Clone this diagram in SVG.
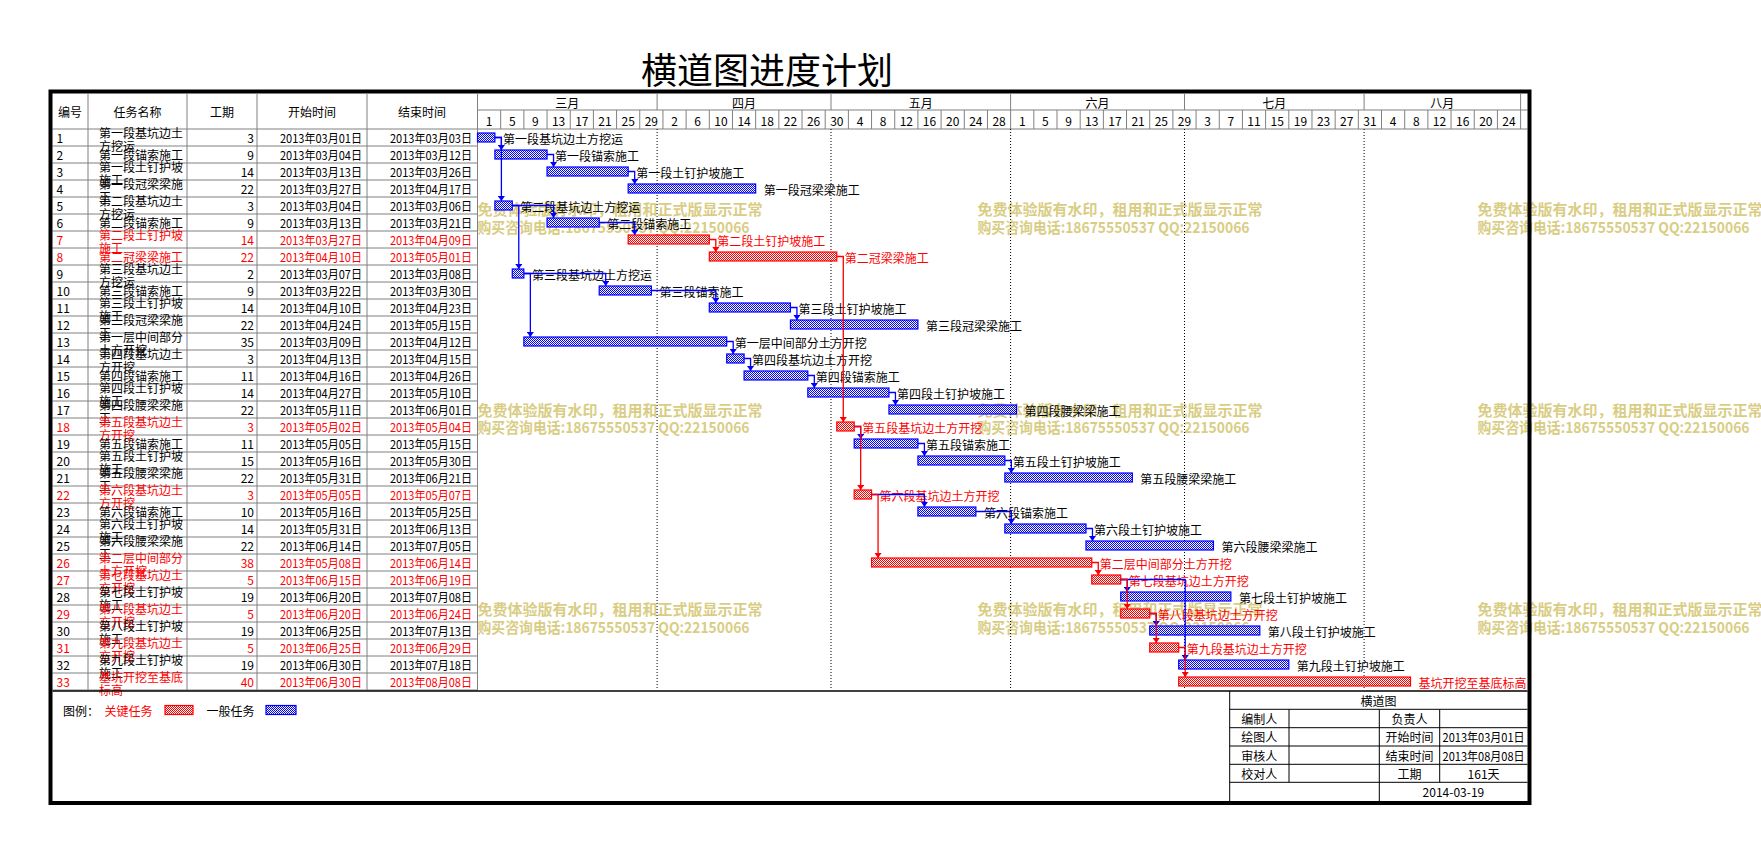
<svg xmlns="http://www.w3.org/2000/svg" width="1761" height="852" viewBox="0 0 1761 852">
<style>
text{font-family:"Noto Sans CJK SC","Noto Sans",sans-serif;font-size:12px;dominant-baseline:central;fill:#000}
.e{text-anchor:end}
.m{text-anchor:middle}
.crit text{fill:#f00}
.g{stroke:#808080;stroke-width:1;fill:none}
.k{stroke:#000;stroke-width:1;fill:none}
.bb{fill:url(#pb);stroke:#00f;stroke-width:1.2}
.br{fill:url(#pr);stroke:#f00;stroke-width:1.2}
.cb{fill:none;stroke:#00f;stroke-width:1.3;marker-end:url(#ab)}
.cr{fill:none;stroke:#f00;stroke-width:1.3;marker-end:url(#ar)}
.wm text{font-size:15px;font-weight:bold;fill:#d9cd84}
.dot{stroke:#000;stroke-width:1;stroke-dasharray:1 2;fill:none}
.title{font-size:36px}
</style>
<defs>
<pattern id="pb" width="2" height="2" patternUnits="userSpaceOnUse"><rect width="2" height="2" fill="#fff"/><rect width="1" height="1" fill="#00f"/><rect x="1" y="1" width="1" height="1" fill="#00f"/></pattern>
<pattern id="pr" width="2" height="2" patternUnits="userSpaceOnUse"><rect width="2" height="2" fill="#fff"/><rect width="1" height="1" fill="#f00"/><rect x="1" y="1" width="1" height="1" fill="#f00"/></pattern>
<marker id="ab" markerUnits="userSpaceOnUse" markerWidth="6" markerHeight="7" refX="5" refY="3.5" orient="auto" viewBox="0 0 6 7"><path d="M0,0L5,3.5L0,7Z" fill="#00f"/></marker>
<marker id="ar" markerUnits="userSpaceOnUse" markerWidth="6" markerHeight="7" refX="5" refY="3.5" orient="auto" viewBox="0 0 6 7"><path d="M0,0L5,3.5L0,7Z" fill="#f00"/></marker>
</defs>
<rect width="1761" height="852" fill="#fff"/>
<text class="m title" x="767" y="67.5">横道图进度计划</text>

<g id="watermark" class="wm">
<text x="477.5" y="208">免费体验版有水印，租用和正式版显示正常</text><text x="477.5" y="226" textLength="272" lengthAdjust="spacingAndGlyphs">购买咨询电话:18675550537 QQ:22150066</text>
<text x="977.5" y="208">免费体验版有水印，租用和正式版显示正常</text><text x="977.5" y="226" textLength="272" lengthAdjust="spacingAndGlyphs">购买咨询电话:18675550537 QQ:22150066</text>
<text x="1477.5" y="208">免费体验版有水印，租用和正式版显示正常</text><text x="1477.5" y="226" textLength="272" lengthAdjust="spacingAndGlyphs">购买咨询电话:18675550537 QQ:22150066</text>
<text x="477.5" y="409">免费体验版有水印，租用和正式版显示正常</text><text x="477.5" y="426" textLength="272" lengthAdjust="spacingAndGlyphs">购买咨询电话:18675550537 QQ:22150066</text>
<text x="977.5" y="409">免费体验版有水印，租用和正式版显示正常</text><text x="977.5" y="426" textLength="272" lengthAdjust="spacingAndGlyphs">购买咨询电话:18675550537 QQ:22150066</text>
<text x="1477.5" y="409">免费体验版有水印，租用和正式版显示正常</text><text x="1477.5" y="426" textLength="272" lengthAdjust="spacingAndGlyphs">购买咨询电话:18675550537 QQ:22150066</text>
<text x="477.5" y="608">免费体验版有水印，租用和正式版显示正常</text><text x="477.5" y="626" textLength="272" lengthAdjust="spacingAndGlyphs">购买咨询电话:18675550537 QQ:22150066</text>
<text x="977.5" y="608">免费体验版有水印，租用和正式版显示正常</text><text x="977.5" y="626" textLength="272" lengthAdjust="spacingAndGlyphs">购买咨询电话:18675550537 QQ:22150066</text>
<text x="1477.5" y="608">免费体验版有水印，租用和正式版显示正常</text><text x="1477.5" y="626" textLength="272" lengthAdjust="spacingAndGlyphs">购买咨询电话:18675550537 QQ:22150066</text>
</g>

<g id="grid">
<path class="g" d="M52.5,146H477.5M52.5,163H477.5M52.5,180H477.5M52.5,197H477.5M52.5,214H477.5M52.5,231H477.5M52.5,248H477.5M52.5,265H477.5M52.5,282H477.5M52.5,299H477.5M52.5,316H477.5M52.5,333H477.5M52.5,350H477.5M52.5,367H477.5M52.5,384H477.5M52.5,401H477.5M52.5,418H477.5M52.5,435H477.5M52.5,452H477.5M52.5,469H477.5M52.5,486H477.5M52.5,503H477.5M52.5,520H477.5M52.5,537H477.5M52.5,554H477.5M52.5,571H477.5M52.5,588H477.5M52.5,605H477.5M52.5,622H477.5M52.5,639H477.5M52.5,656H477.5M52.5,673H477.5M52.5,690H477.5"/>
<path class="g" d="M52.5,129H1527.5M477.5,110H1527.5M88,94V690M187,94V690M257,94V690M367,94V690M477.5,94V690M1520.6,94V129"/>
<path class="g" d="M657.1,94V110M831,94V110M1010.6,94V110M1184.5,94V110M1364.1,94V110"/>
<path class="g" d="M500.68,110V129M523.86,110V129M547.04,110V129M570.22,110V129M593.4,110V129M616.58,110V129M639.76,110V129M662.94,110V129M686.12,110V129M709.3,110V129M732.48,110V129M755.66,110V129M778.84,110V129M802.02,110V129M825.2,110V129M848.38,110V129M871.56,110V129M894.74,110V129M917.92,110V129M941.1,110V129M964.28,110V129M987.46,110V129M1010.64,110V129M1033.82,110V129M1057,110V129M1080.18,110V129M1103.36,110V129M1126.54,110V129M1149.72,110V129M1172.9,110V129M1196.08,110V129M1219.26,110V129M1242.44,110V129M1265.62,110V129M1288.8,110V129M1311.98,110V129M1335.16,110V129M1358.34,110V129M1381.52,110V129M1404.7,110V129M1427.88,110V129M1451.06,110V129M1474.24,110V129M1497.42,110V129"/>
<path class="dot" d="M657.1,129V690M831,129V690M1010.6,129V690M1184.5,129V690M1364.1,129V690"/>
</g>

<g id="header">
<text class="m" x="70" y="111.5">编号</text>
<text class="m" x="137.5" y="111.5">任务名称</text>
<text class="m" x="222" y="111.5">工期</text>
<text class="m" x="312" y="111.5">开始时间</text>
<text class="m" x="422" y="111.5">结束时间</text>
<text class="m" x="567.3" y="102">三月</text>
<text class="m" x="744.05" y="102">四月</text>
<text class="m" x="920.8" y="102">五月</text>
<text class="m" x="1097.6" y="102">六月</text>
<text class="m" x="1274.3" y="102">七月</text>
<text class="m" x="1442.35" y="102">八月</text>
<text class="m" x="489.09" y="120">1</text><text class="m" x="512.27" y="120">5</text><text class="m" x="535.45" y="120">9</text><text class="m" x="558.63" y="120">13</text><text class="m" x="581.81" y="120">17</text><text class="m" x="604.99" y="120">21</text><text class="m" x="628.17" y="120">25</text><text class="m" x="651.35" y="120">29</text>
<text class="m" x="674.53" y="120">2</text><text class="m" x="697.71" y="120">6</text><text class="m" x="720.89" y="120">10</text><text class="m" x="744.07" y="120">14</text><text class="m" x="767.25" y="120">18</text><text class="m" x="790.43" y="120">22</text><text class="m" x="813.61" y="120">26</text><text class="m" x="836.79" y="120">30</text>
<text class="m" x="859.97" y="120">4</text><text class="m" x="883.15" y="120">8</text><text class="m" x="906.33" y="120">12</text><text class="m" x="929.51" y="120">16</text><text class="m" x="952.69" y="120">20</text><text class="m" x="975.87" y="120">24</text><text class="m" x="999.05" y="120">28</text>
<text class="m" x="1022.23" y="120">1</text><text class="m" x="1045.41" y="120">5</text><text class="m" x="1068.59" y="120">9</text><text class="m" x="1091.77" y="120">13</text><text class="m" x="1114.95" y="120">17</text><text class="m" x="1138.13" y="120">21</text><text class="m" x="1161.31" y="120">25</text><text class="m" x="1184.49" y="120">29</text>
<text class="m" x="1207.67" y="120">3</text><text class="m" x="1230.85" y="120">7</text><text class="m" x="1254.03" y="120">11</text><text class="m" x="1277.21" y="120">15</text><text class="m" x="1300.39" y="120">19</text><text class="m" x="1323.57" y="120">23</text><text class="m" x="1346.75" y="120">27</text><text class="m" x="1369.93" y="120">31</text>
<text class="m" x="1393.11" y="120">4</text><text class="m" x="1416.29" y="120">8</text><text class="m" x="1439.47" y="120">12</text><text class="m" x="1462.65" y="120">16</text><text class="m" x="1485.83" y="120">20</text><text class="m" x="1509.01" y="120">24</text>
</g>

<g id="task-1"><text x="56.5" y="137.5">1</text><text x="99" y="132.7">第一段基坑边土</text><text x="99" y="145.2">方挖运</text><text class="e" x="254" y="137.5">3</text><text class="e" x="362" y="137.5" textLength="82" lengthAdjust="spacingAndGlyphs">2013年03月01日</text><text class="e" x="472" y="137.5" textLength="82" lengthAdjust="spacingAndGlyphs">2013年03月03日</text><rect class="bb" x="477.5" y="133" width="17.39" height="9"/><text x="502.9" y="138.5">第一段基坑边土方挖运</text></g>
<g id="task-2"><text x="56.5" y="154.5">2</text><text x="99" y="154.5">第一段锚索施工</text><text class="e" x="254" y="154.5">9</text><text class="e" x="362" y="154.5" textLength="82" lengthAdjust="spacingAndGlyphs">2013年03月04日</text><text class="e" x="472" y="154.5" textLength="82" lengthAdjust="spacingAndGlyphs">2013年03月12日</text><rect class="bb" x="494.89" y="150" width="52.16" height="9"/><text x="555" y="155.5">第一段锚索施工</text></g>
<g id="task-3"><text x="56.5" y="171.5">3</text><text x="99" y="166.7">第一段土钉护坡</text><text x="99" y="179.2">施工</text><text class="e" x="254" y="171.5">14</text><text class="e" x="362" y="171.5" textLength="82" lengthAdjust="spacingAndGlyphs">2013年03月13日</text><text class="e" x="472" y="171.5" textLength="82" lengthAdjust="spacingAndGlyphs">2013年03月26日</text><rect class="bb" x="547.04" y="167" width="81.13" height="9"/><text x="636.2" y="172.5">第一段土钉护坡施工</text></g>
<g id="task-4"><text x="56.5" y="188.5">4</text><text x="99" y="183.7">第一段冠梁梁施</text><text x="99" y="196.2">工</text><text class="e" x="254" y="188.5">22</text><text class="e" x="362" y="188.5" textLength="82" lengthAdjust="spacingAndGlyphs">2013年03月27日</text><text class="e" x="472" y="188.5" textLength="82" lengthAdjust="spacingAndGlyphs">2013年04月17日</text><rect class="bb" x="628.17" y="184" width="127.49" height="9"/><text x="763.7" y="189.5">第一段冠梁梁施工</text></g>
<g id="task-5"><text x="56.5" y="205.5">5</text><text x="99" y="200.7">第二段基坑边土</text><text x="99" y="213.2">方挖运</text><text class="e" x="254" y="205.5">3</text><text class="e" x="362" y="205.5" textLength="82" lengthAdjust="spacingAndGlyphs">2013年03月04日</text><text class="e" x="472" y="205.5" textLength="82" lengthAdjust="spacingAndGlyphs">2013年03月06日</text><rect class="bb" x="494.89" y="201" width="17.39" height="9"/><text x="520.3" y="206.5">第二段基坑边土方挖运</text></g>
<g id="task-6"><text x="56.5" y="222.5">6</text><text x="99" y="222.5">第二段锚索施工</text><text class="e" x="254" y="222.5">9</text><text class="e" x="362" y="222.5" textLength="82" lengthAdjust="spacingAndGlyphs">2013年03月13日</text><text class="e" x="472" y="222.5" textLength="82" lengthAdjust="spacingAndGlyphs">2013年03月21日</text><rect class="bb" x="547.04" y="218" width="52.16" height="9"/><text x="607.2" y="223.5">第二段锚索施工</text></g>
<g id="task-7" class="crit"><text x="56.5" y="239.5">7</text><text x="99" y="234.7">第二段土钉护坡</text><text x="99" y="247.2">施工</text><text class="e" x="254" y="239.5">14</text><text class="e" x="362" y="239.5" textLength="82" lengthAdjust="spacingAndGlyphs">2013年03月27日</text><text class="e" x="472" y="239.5" textLength="82" lengthAdjust="spacingAndGlyphs">2013年04月09日</text><rect class="br" x="628.17" y="235" width="81.13" height="9"/><text x="717.3" y="240.5">第二段土钉护坡施工</text></g>
<g id="task-8" class="crit"><text x="56.5" y="256.5">8</text><text x="99" y="256.5">第二冠梁梁施工</text><text class="e" x="254" y="256.5">22</text><text class="e" x="362" y="256.5" textLength="82" lengthAdjust="spacingAndGlyphs">2013年04月10日</text><text class="e" x="472" y="256.5" textLength="82" lengthAdjust="spacingAndGlyphs">2013年05月01日</text><rect class="br" x="709.3" y="252" width="127.49" height="9"/><text x="844.8" y="257.5">第二冠梁梁施工</text></g>
<g id="task-9"><text x="56.5" y="273.5">9</text><text x="99" y="268.7">第三段基坑边土</text><text x="99" y="281.2">方挖运</text><text class="e" x="254" y="273.5">2</text><text class="e" x="362" y="273.5" textLength="82" lengthAdjust="spacingAndGlyphs">2013年03月07日</text><text class="e" x="472" y="273.5" textLength="82" lengthAdjust="spacingAndGlyphs">2013年03月08日</text><rect class="bb" x="512.27" y="269" width="11.59" height="9"/><text x="531.9" y="274.5">第三段基坑边土方挖运</text></g>
<g id="task-10"><text x="56.5" y="290.5">10</text><text x="99" y="290.5">第三段锚索施工</text><text class="e" x="254" y="290.5">9</text><text class="e" x="362" y="290.5" textLength="82" lengthAdjust="spacingAndGlyphs">2013年03月22日</text><text class="e" x="472" y="290.5" textLength="82" lengthAdjust="spacingAndGlyphs">2013年03月30日</text><rect class="bb" x="599.2" y="286" width="52.16" height="9"/><text x="659.4" y="291.5">第三段锚索施工</text></g>
<g id="task-11"><text x="56.5" y="307.5">11</text><text x="99" y="302.7">第三段土钉护坡</text><text x="99" y="315.2">施工</text><text class="e" x="254" y="307.5">14</text><text class="e" x="362" y="307.5" textLength="82" lengthAdjust="spacingAndGlyphs">2013年04月10日</text><text class="e" x="472" y="307.5" textLength="82" lengthAdjust="spacingAndGlyphs">2013年04月23日</text><rect class="bb" x="709.3" y="303" width="81.13" height="9"/><text x="798.4" y="308.5">第三段土钉护坡施工</text></g>
<g id="task-12"><text x="56.5" y="324.5">12</text><text x="99" y="319.7">第三段冠梁梁施</text><text x="99" y="332.2">工</text><text class="e" x="254" y="324.5">22</text><text class="e" x="362" y="324.5" textLength="82" lengthAdjust="spacingAndGlyphs">2013年04月24日</text><text class="e" x="472" y="324.5" textLength="82" lengthAdjust="spacingAndGlyphs">2013年05月15日</text><rect class="bb" x="790.43" y="320" width="127.49" height="9"/><text x="925.9" y="325.5">第三段冠梁梁施工</text></g>
<g id="task-13"><text x="56.5" y="341.5">13</text><text x="99" y="336.7">第一层中间部分</text><text x="99" y="349.2">土方开挖</text><text class="e" x="254" y="341.5">35</text><text class="e" x="362" y="341.5" textLength="82" lengthAdjust="spacingAndGlyphs">2013年03月09日</text><text class="e" x="472" y="341.5" textLength="82" lengthAdjust="spacingAndGlyphs">2013年04月12日</text><rect class="bb" x="523.86" y="337" width="202.83" height="9"/><text x="734.7" y="342.5">第一层中间部分土方开挖</text></g>
<g id="task-14"><text x="56.5" y="358.5">14</text><text x="99" y="353.7">第四段基坑边土</text><text x="99" y="366.2">方开挖</text><text class="e" x="254" y="358.5">3</text><text class="e" x="362" y="358.5" textLength="82" lengthAdjust="spacingAndGlyphs">2013年04月13日</text><text class="e" x="472" y="358.5" textLength="82" lengthAdjust="spacingAndGlyphs">2013年04月15日</text><rect class="bb" x="726.69" y="354" width="17.39" height="9"/><text x="752.1" y="359.5">第四段基坑边土方开挖</text></g>
<g id="task-15"><text x="56.5" y="375.5">15</text><text x="99" y="375.5">第四段锚索施工</text><text class="e" x="254" y="375.5">11</text><text class="e" x="362" y="375.5" textLength="82" lengthAdjust="spacingAndGlyphs">2013年04月16日</text><text class="e" x="472" y="375.5" textLength="82" lengthAdjust="spacingAndGlyphs">2013年04月26日</text><rect class="bb" x="744.07" y="371" width="63.75" height="9"/><text x="815.8" y="376.5">第四段锚索施工</text></g>
<g id="task-16"><text x="56.5" y="392.5">16</text><text x="99" y="387.7">第四段土钉护坡</text><text x="99" y="400.2">施工</text><text class="e" x="254" y="392.5">14</text><text class="e" x="362" y="392.5" textLength="82" lengthAdjust="spacingAndGlyphs">2013年04月27日</text><text class="e" x="472" y="392.5" textLength="82" lengthAdjust="spacingAndGlyphs">2013年05月10日</text><rect class="bb" x="807.82" y="388" width="81.13" height="9"/><text x="896.9" y="393.5">第四段土钉护坡施工</text></g>
<g id="task-17"><text x="56.5" y="409.5">17</text><text x="99" y="404.7">第四段腰梁梁施</text><text x="99" y="417.2">工</text><text class="e" x="254" y="409.5">22</text><text class="e" x="362" y="409.5" textLength="82" lengthAdjust="spacingAndGlyphs">2013年05月11日</text><text class="e" x="472" y="409.5" textLength="82" lengthAdjust="spacingAndGlyphs">2013年06月01日</text><rect class="bb" x="888.95" y="405" width="127.49" height="9"/><text x="1024.4" y="410.5">第四段腰梁梁施工</text></g>
<g id="task-18" class="crit"><text x="56.5" y="426.5">18</text><text x="99" y="421.7">第五段基坑边土</text><text x="99" y="434.2">方开挖</text><text class="e" x="254" y="426.5">3</text><text class="e" x="362" y="426.5" textLength="82" lengthAdjust="spacingAndGlyphs">2013年05月02日</text><text class="e" x="472" y="426.5" textLength="82" lengthAdjust="spacingAndGlyphs">2013年05月04日</text><rect class="br" x="836.79" y="422" width="17.39" height="9"/><text x="862.2" y="427.5">第五段基坑边土方开挖</text></g>
<g id="task-19"><text x="56.5" y="443.5">19</text><text x="99" y="443.5">第五段锚索施工</text><text class="e" x="254" y="443.5">11</text><text class="e" x="362" y="443.5" textLength="82" lengthAdjust="spacingAndGlyphs">2013年05月05日</text><text class="e" x="472" y="443.5" textLength="82" lengthAdjust="spacingAndGlyphs">2013年05月15日</text><rect class="bb" x="854.18" y="439" width="63.75" height="9"/><text x="925.9" y="444.5">第五段锚索施工</text></g>
<g id="task-20"><text x="56.5" y="460.5">20</text><text x="99" y="455.7">第五段土钉护坡</text><text x="99" y="468.2">施工</text><text class="e" x="254" y="460.5">15</text><text class="e" x="362" y="460.5" textLength="82" lengthAdjust="spacingAndGlyphs">2013年05月16日</text><text class="e" x="472" y="460.5" textLength="82" lengthAdjust="spacingAndGlyphs">2013年05月30日</text><rect class="bb" x="917.92" y="456" width="86.93" height="9"/><text x="1012.8" y="461.5">第五段土钉护坡施工</text></g>
<g id="task-21"><text x="56.5" y="477.5">21</text><text x="99" y="472.7">第五段腰梁梁施</text><text x="99" y="485.2">工</text><text class="e" x="254" y="477.5">22</text><text class="e" x="362" y="477.5" textLength="82" lengthAdjust="spacingAndGlyphs">2013年05月31日</text><text class="e" x="472" y="477.5" textLength="82" lengthAdjust="spacingAndGlyphs">2013年06月21日</text><rect class="bb" x="1004.85" y="473" width="127.49" height="9"/><text x="1140.3" y="478.5">第五段腰梁梁施工</text></g>
<g id="task-22" class="crit"><text x="56.5" y="494.5">22</text><text x="99" y="489.7">第六段基坑边土</text><text x="99" y="502.2">方开挖</text><text class="e" x="254" y="494.5">3</text><text class="e" x="362" y="494.5" textLength="82" lengthAdjust="spacingAndGlyphs">2013年05月05日</text><text class="e" x="472" y="494.5" textLength="82" lengthAdjust="spacingAndGlyphs">2013年05月07日</text><rect class="br" x="854.18" y="490" width="17.39" height="9"/><text x="879.6" y="495.5">第六段基坑边土方开挖</text></g>
<g id="task-23"><text x="56.5" y="511.5">23</text><text x="99" y="511.5">第六段锚索施工</text><text class="e" x="254" y="511.5">10</text><text class="e" x="362" y="511.5" textLength="82" lengthAdjust="spacingAndGlyphs">2013年05月16日</text><text class="e" x="472" y="511.5" textLength="82" lengthAdjust="spacingAndGlyphs">2013年05月25日</text><rect class="bb" x="917.92" y="507" width="57.95" height="9"/><text x="983.9" y="512.5">第六段锚索施工</text></g>
<g id="task-24"><text x="56.5" y="528.5">24</text><text x="99" y="523.7">第六段土钉护坡</text><text x="99" y="536.2">施工</text><text class="e" x="254" y="528.5">14</text><text class="e" x="362" y="528.5" textLength="82" lengthAdjust="spacingAndGlyphs">2013年05月31日</text><text class="e" x="472" y="528.5" textLength="82" lengthAdjust="spacingAndGlyphs">2013年06月13日</text><rect class="bb" x="1004.85" y="524" width="81.13" height="9"/><text x="1094" y="529.5">第六段土钉护坡施工</text></g>
<g id="task-25"><text x="56.5" y="545.5">25</text><text x="99" y="540.7">第六段腰梁梁施</text><text x="99" y="553.2">工</text><text class="e" x="254" y="545.5">22</text><text class="e" x="362" y="545.5" textLength="82" lengthAdjust="spacingAndGlyphs">2013年06月14日</text><text class="e" x="472" y="545.5" textLength="82" lengthAdjust="spacingAndGlyphs">2013年07月05日</text><rect class="bb" x="1085.98" y="541" width="127.49" height="9"/><text x="1221.5" y="546.5">第六段腰梁梁施工</text></g>
<g id="task-26" class="crit"><text x="56.5" y="562.5">26</text><text x="99" y="557.7">第二层中间部分</text><text x="99" y="570.2">土方开挖</text><text class="e" x="254" y="562.5">38</text><text class="e" x="362" y="562.5" textLength="82" lengthAdjust="spacingAndGlyphs">2013年05月08日</text><text class="e" x="472" y="562.5" textLength="82" lengthAdjust="spacingAndGlyphs">2013年06月14日</text><rect class="br" x="871.56" y="558" width="220.21" height="9"/><text x="1099.8" y="563.5">第二层中间部分土方开挖</text></g>
<g id="task-27" class="crit"><text x="56.5" y="579.5">27</text><text x="99" y="574.7">第七段基坑边土</text><text x="99" y="587.2">方开挖</text><text class="e" x="254" y="579.5">5</text><text class="e" x="362" y="579.5" textLength="82" lengthAdjust="spacingAndGlyphs">2013年06月15日</text><text class="e" x="472" y="579.5" textLength="82" lengthAdjust="spacingAndGlyphs">2013年06月19日</text><rect class="br" x="1091.77" y="575" width="28.98" height="9"/><text x="1128.7" y="580.5">第七段基坑边土方开挖</text></g>
<g id="task-28"><text x="56.5" y="596.5">28</text><text x="99" y="591.7">第七段土钉护坡</text><text x="99" y="604.2">施工</text><text class="e" x="254" y="596.5">19</text><text class="e" x="362" y="596.5" textLength="82" lengthAdjust="spacingAndGlyphs">2013年06月20日</text><text class="e" x="472" y="596.5" textLength="82" lengthAdjust="spacingAndGlyphs">2013年07月08日</text><rect class="bb" x="1120.75" y="592" width="110.11" height="9"/><text x="1238.9" y="597.5">第七段土钉护坡施工</text></g>
<g id="task-29" class="crit"><text x="56.5" y="613.5">29</text><text x="99" y="608.7">第八段基坑边土</text><text x="99" y="621.2">方开挖</text><text class="e" x="254" y="613.5">5</text><text class="e" x="362" y="613.5" textLength="82" lengthAdjust="spacingAndGlyphs">2013年06月20日</text><text class="e" x="472" y="613.5" textLength="82" lengthAdjust="spacingAndGlyphs">2013年06月24日</text><rect class="br" x="1120.75" y="609" width="28.98" height="9"/><text x="1157.7" y="614.5">第八段基坑边土方开挖</text></g>
<g id="task-30"><text x="56.5" y="630.5">30</text><text x="99" y="625.7">第八段土钉护坡</text><text x="99" y="638.2">施工</text><text class="e" x="254" y="630.5">19</text><text class="e" x="362" y="630.5" textLength="82" lengthAdjust="spacingAndGlyphs">2013年06月25日</text><text class="e" x="472" y="630.5" textLength="82" lengthAdjust="spacingAndGlyphs">2013年07月13日</text><rect class="bb" x="1149.72" y="626" width="110.11" height="9"/><text x="1267.8" y="631.5">第八段土钉护坡施工</text></g>
<g id="task-31" class="crit"><text x="56.5" y="647.5">31</text><text x="99" y="642.7">第九段基坑边土</text><text x="99" y="655.2">方开挖</text><text class="e" x="254" y="647.5">5</text><text class="e" x="362" y="647.5" textLength="82" lengthAdjust="spacingAndGlyphs">2013年06月25日</text><text class="e" x="472" y="647.5" textLength="82" lengthAdjust="spacingAndGlyphs">2013年06月29日</text><rect class="br" x="1149.72" y="643" width="28.98" height="9"/><text x="1186.7" y="648.5">第九段基坑边土方开挖</text></g>
<g id="task-32"><text x="56.5" y="664.5">32</text><text x="99" y="659.7">第九段土钉护坡</text><text x="99" y="672.2">施工</text><text class="e" x="254" y="664.5">19</text><text class="e" x="362" y="664.5" textLength="82" lengthAdjust="spacingAndGlyphs">2013年06月30日</text><text class="e" x="472" y="664.5" textLength="82" lengthAdjust="spacingAndGlyphs">2013年07月18日</text><rect class="bb" x="1178.7" y="660" width="110.11" height="9"/><text x="1296.8" y="665.5">第九段土钉护坡施工</text></g>
<g id="task-33" class="crit"><text x="56.5" y="681.5">33</text><text x="99" y="676.7">基坑开挖至基底</text><text x="99" y="689.2">标高</text><text class="e" x="254" y="681.5">40</text><text class="e" x="362" y="681.5" textLength="82" lengthAdjust="spacingAndGlyphs">2013年06月30日</text><text class="e" x="472" y="681.5" textLength="82" lengthAdjust="spacingAndGlyphs">2013年08月08日</text><rect class="br" x="1178.7" y="677" width="231.8" height="9"/><text x="1418.5" y="682.5">基坑开挖至基底标高</text></g>

<g id="connectors">
<path class="cb" d="M494.89,137.5H501.39V150"/>
<path class="cb" d="M494.89,137.5H501.39V201"/>
<path class="cb" d="M547.04,154.5H553.54V167"/>
<path class="cb" d="M628.17,171.5H634.67V184"/>
<path class="cb" d="M512.27,205.5H553.54V218"/>
<path class="cb" d="M512.27,205.5H518.77V269"/>
<path class="cb" d="M599.2,222.5H634.67V235"/>
<path class="cb" d="M523.86,273.5H605.7V286"/>
<path class="cb" d="M523.86,273.5H530.36V337"/>
<path class="cb" d="M651.35,290.5H715.8V303"/>
<path class="cb" d="M790.43,307.5H796.93V320"/>
<path class="cb" d="M726.69,341.5H733.19V354"/>
<path class="cb" d="M744.07,358.5H750.57V371"/>
<path class="cb" d="M807.82,375.5H814.32V388"/>
<path class="cb" d="M888.95,392.5H895.45V405"/>
<path class="cb" d="M854.18,426.5H860.68V439"/>
<path class="cb" d="M917.92,443.5H924.42V456"/>
<path class="cb" d="M1004.85,460.5H1011.35V473"/>
<path class="cb" d="M871.56,494.5H924.42V507"/>
<path class="cb" d="M975.87,511.5H1011.35V524"/>
<path class="cb" d="M1085.98,528.5H1092.48V541"/>
<path class="cb" d="M1120.75,579.5H1127.25V592"/>
<path class="cb" d="M1120.75,579.5H1185.2V660"/>
<path class="cb" d="M1149.72,613.5H1156.22V626"/>
<path class="cr" d="M709.3,239.5H715.8V252"/>
<path class="cr" d="M836.79,256.5H843.29V422"/>
<path class="cr" d="M854.18,426.5H860.68V490"/>
<path class="cr" d="M871.56,494.5H878.06V558"/>
<path class="cr" d="M1091.77,562.5H1098.27V575"/>
<path class="cr" d="M1120.75,579.5H1127.25V609"/>
<path class="cr" d="M1149.72,613.5H1156.22V643"/>
<path class="cr" d="M1178.7,647.5H1185.2V677"/>
</g>

<g id="legend">
<text x="63" y="710">图例：</text>
<text x="104.5" y="710" fill="#f00" style="fill:#f00">关键任务</text>
<rect class="br" x="165" y="705.5" width="28" height="9"/>
<text x="206.5" y="710">一般任务</text>
<rect class="bb" x="266" y="705.5" width="30" height="9"/>
</g>

<g id="titleblock">
<path class="k" d="M1229.7,691V801M1229.7,709.3H1527.5M1229.7,727.7H1527.5M1229.7,746H1527.5M1229.7,764.3H1527.5M1229.7,782.3H1527.5M1289,709.3V782.3M1379.3,709.3V801M1439.7,709.3V782.3"/>
<text class="m" x="1378.6" y="700.2">横道图</text>
<text class="m" x="1259.35" y="718.5">编制人</text><text class="m" x="1409.5" y="718.5">负责人</text>
<text class="m" x="1259.35" y="736.8">绘图人</text><text class="m" x="1409.5" y="736.8">开始时间</text><text class="m" x="1483.6" y="736.8" textLength="82" lengthAdjust="spacingAndGlyphs">2013年03月01日</text>
<text class="m" x="1259.35" y="755.2">审核人</text><text class="m" x="1409.5" y="755.2">结束时间</text><text class="m" x="1483.6" y="755.2" textLength="82" lengthAdjust="spacingAndGlyphs">2013年08月08日</text>
<text class="m" x="1259.35" y="773.3">校对人</text><text class="m" x="1409.5" y="773.3">工期</text><text class="m" x="1483.6" y="773.3">161天</text>
<text class="m" x="1453.4" y="791.7">2014-03-19</text>
</g>

<g id="frame">
<path d="M52.5,691H1527.5" stroke="#000" stroke-width="1.5" fill="none"/>
<rect x="50.5" y="91.5" width="1479" height="711.5" fill="none" stroke="#000" stroke-width="4"/>
</g>
</svg>
